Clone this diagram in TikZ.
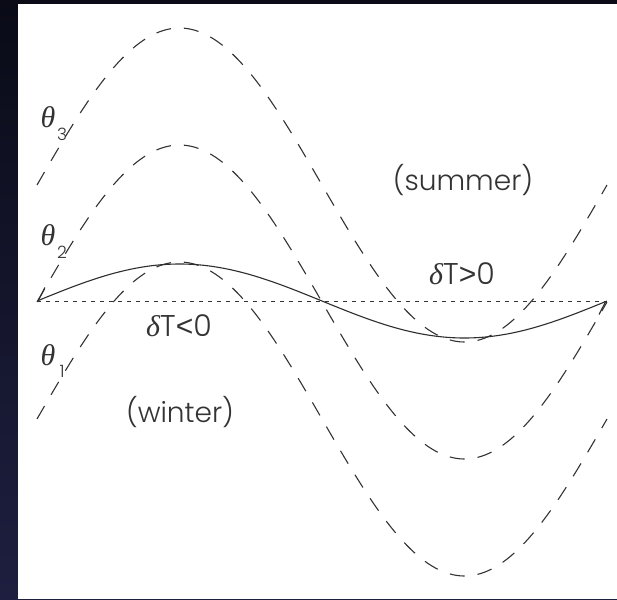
\documentclass[tikz,border=0pt]{standalone}
\usepackage{fontspec}
\setmainfont{Poppins}[UprightFont=* Light]
\newfontfamily\grk{Liberation Serif}
\newfontfamily\relf{Liberation Sans}
\usetikzlibrary{arrows.meta}
\definecolor{bgtop}{HTML}{0A0B17}
\definecolor{bgbot}{HTML}{1E1F40}
\definecolor{ink}{HTML}{333333}
\newcommand{\gth}{{\grk\itshape θ}}
\newcommand{\gdl}{{\grk\itshape δ}}
\newcommand{\rel}[1]{{\relf #1}}
\tikzset{
  solidcurve/.style={draw=ink!90!black, line width=1.1pt},
  dashcurve/.style={draw=ink, line width=1.1pt, dash pattern=on 15pt off 13pt},
  axisline/.style={draw=ink, line width=1pt, dash pattern=on 4pt off 5pt},
  lab/.style={text=ink, inner sep=0pt, font=\fontsize{28}{34}\selectfont},
  dlab/.style={text=ink, inner sep=0pt, font=\fontsize{30}{34}\selectfont},
  thlab/.style={text=ink, inner sep=0pt, font=\fontsize{30}{34}\selectfont},
  sublab/.style={text=ink, inner sep=0pt, font=\fontsize{17}{20}\selectfont},
  harp/.tip={Straight Barb[right,length=11pt,width=19pt,line width=1.1pt]}
}
\begin{document}
\begin{tikzpicture}[x=1pt,y=-1pt]
\fill[top color=bgtop, bottom color=bgbot] (0,0) rectangle (617,599);
\fill[white] (18,4) rectangle (617,599);
\useasboundingbox (0,0) rectangle (617,599);
% dotted axis
\draw[axisline] (37,301) -- (607,301);
% dashed curves theta_3, theta_2, theta_1
\draw[dashcurve] plot[domain=37:607, samples=160, smooth] (\x,{185-157*sin((\x-37)*0.631579)});
\draw[dashcurve] plot[domain=37:607, samples=160, smooth] (\x,{302-157*sin((\x-37)*0.631579)});
\draw[dashcurve] plot[domain=37:607, samples=160, smooth] (\x,{419-157*sin((\x-37)*0.631579)});
% solid curve
\draw[solidcurve, harp-harp] plot[domain=37:607, samples=160, smooth] (\x,{301-37*sin((\x-37)*0.631579)});
% labels
\node[thlab] (t3) at (48,117) {\gth};
\node[sublab] (s3) at (62,134) {3};
\node[thlab] (t2) at (48,235) {\gth};
\node[sublab] (s2) at (62,252) {2};
\node[thlab] (t1) at (48,355) {\gth};
\node[sublab] (s1) at (62,371) {1};
\node[lab] (summer) at (463,180) {(summer)};
\node[lab] (winter) at (180,412) {(winter)};
\node[dlab] (dtp) at (462,274) {\gdl T\rel{>}0};
\node[dlab] (dtn) at (179,326) {\gdl T\rel{<}0};
\end{tikzpicture}
\end{document}
